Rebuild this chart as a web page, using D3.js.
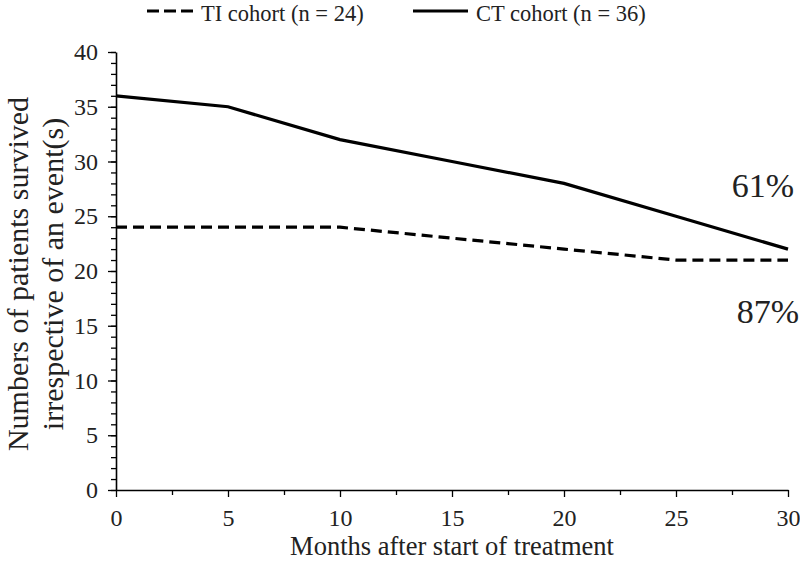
<!DOCTYPE html>
<html>
<head>
<meta charset="UTF-8">
<script src="https://d3js.org/d3.v7.min.js"></script>
<style>
  body { margin: 0; background: #fff; }
</style>
</head>
<body>
<svg id="chart" width="800" height="562"></svg>
<script>
  const months = [0, 5, 10, 15, 20, 25, 30];
  const tiValues = [24, 24, 24, 23, 22, 21, 21];
  const ctValues = [36, 35, 32, 30, 28, 25, 22];
  const xTicks = [0, 5, 10, 15, 20, 25, 30];
  const yTicks = [0, 5, 10, 15, 20, 25, 30, 35, 40];

  const serif = "'Liberation Serif', 'Times New Roman', 'DejaVu Serif', 'Noto Serif', serif";
  const width = 800, height = 562;
  const margin = { top: 52, right: 12, bottom: 72, left: 116 };
  const svg = d3.select("#chart").attr("font-family", serif);

  const x = d3.scaleLinear().domain([0, 30]).range([margin.left, width - margin.right]);
  const y = d3.scaleLinear().domain([0, 40]).range([height - margin.bottom, margin.top]);

  // minor ticks
  svg.append("g")
    .attr("transform", `translate(${margin.left},0)`)
    .call(d3.axisLeft(y).tickValues(d3.range(0, 41, 1)).tickSize(5).tickFormat(""))
    .call(g => g.select(".domain").remove())
    .selectAll("line").attr("stroke-width", 1.3);

  svg.append("g")
    .attr("transform", `translate(0,${height - margin.bottom})`)
    .call(d3.axisBottom(x).tickValues(d3.range(2.5, 30, 5)).tickSize(5).tickFormat(""))
    .call(g => g.select(".domain").remove())
    .selectAll("line").attr("stroke-width", 1.3);

  const yAxis = svg.append("g")
    .attr("transform", `translate(${margin.left},0)`)
    .call(d3.axisLeft(y).tickValues(yTicks).tickSize(8).tickSizeOuter(0).tickPadding(10));

  const xAxis = svg.append("g")
    .attr("transform", `translate(0,${height - margin.bottom})`)
    .call(d3.axisBottom(x).tickValues(xTicks).tickSize(7).tickSizeOuter(0).tickPadding(12));

  [yAxis, xAxis].forEach(g => {
    g.attr("font-family", serif).attr("font-size", 24);
    g.select(".domain").attr("stroke-width", 1.6);
    g.selectAll("line").attr("stroke-width", 1.3);
    g.selectAll("text").attr("fill", "#222");
  });

  const line = d3.line().x((d, i) => x(months[i])).y(d => y(d));

  svg.append("path")
    .datum(tiValues)
    .attr("fill", "none")
    .attr("stroke", "#000")
    .attr("stroke-width", 3.2)
    .attr("stroke-dasharray", "11,6")
    .attr("d", line);

  svg.append("path")
    .datum(ctValues)
    .attr("fill", "none")
    .attr("stroke", "#000")
    .attr("stroke-width", 3.2)
    .attr("d", line);

  // axis titles
  svg.append("text")
    .attr("x", (margin.left + width - margin.right) / 2)
    .attr("y", 555)
    .attr("text-anchor", "middle")
    .attr("font-size", 26.5)
    .attr("fill", "#222")
    .text("Months after start of treatment");

  const yTitle = svg.append("text")
    .attr("transform", "translate(0,274) rotate(-90)")
    .attr("text-anchor", "middle")
    .attr("font-size", 30)
    .attr("fill", "#222");
  yTitle.append("tspan").attr("x", 0).attr("y", 28).text("Numbers of patients survived");
  yTitle.append("tspan").attr("x", 0).attr("y", 63).text("irrespective of an event(s)");

  // annotations
  svg.append("text")
    .attr("x", 794).attr("y", 197)
    .attr("text-anchor", "end")
    .attr("font-size", 34)
    .attr("fill", "#222")
    .text("61%");

  svg.append("text")
    .attr("x", 799).attr("y", 323)
    .attr("text-anchor", "end")
    .attr("font-size", 34)
    .attr("fill", "#222")
    .text("87%");

  // legend
  const legendItems = [
    { label: "TI cohort (n = 24)", dash: "12,5", x1: 147, len: 46 },
    { label: "CT cohort (n = 36)", dash: null, x1: 413, len: 55 }
  ];
  legendItems.forEach(d => {
    svg.append("line")
      .attr("x1", d.x1).attr("x2", d.x1 + d.len)
      .attr("y1", 11).attr("y2", 11)
      .attr("stroke", "#000")
      .attr("stroke-width", 3.2)
      .attr("stroke-dasharray", d.dash);
    svg.append("text")
      .attr("x", d.x1 + d.len + 8).attr("y", 21)
      .attr("font-size", 22.5)
      .attr("fill", "#222")
      .text(d.label);
  });
</script>
</body>
</html>
